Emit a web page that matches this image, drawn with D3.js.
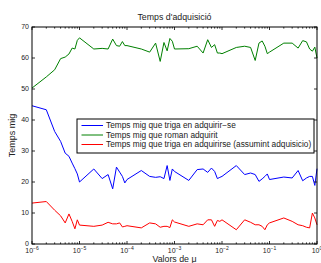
<!DOCTYPE html>
<meta charset="utf-8">
<style>
  body { margin: 0; background: #fff; }
  text { font-family: "Liberation Sans", Arial, sans-serif; fill: #222; }
  .line { fill: none; stroke-width: 1px; }
</style>
<body>
<div id="chart"></div>
<script src="https://d3js.org/d3.v7.min.js"></script>
<script>
  // x values: 1..9 x 10^k, k = -6..-1, then 10^0
  var mus = [];
  for (var k = -6; k < 0; k++) for (var m = 1; m <= 9; m++) mus.push(+(m * Math.pow(10, k)).toPrecision(2));
  mus.push(1);

  var adquirir = [44.6, 43.3, 36.3, 33.1, 29.3, 28.3, 26.1, 24.3, 22.6,
                  20.0, 24.2, 21.1, 22.4, 17.8, 24.8, 23.2, 21.8, 19.7,
                  20.8, 23.7, 21.8, 21.5, 21.7, 21.1, 25.3, 20.5, 24.2,
                  23.4, 20.5, 24.0, 24.2, 23.1, 24.5, 23.4, 21.1, 21.5,
                  21.8, 25.3, 22.4, 22.9, 22.4, 20.2, 21.0, 21.8, 22.6,
                  20.8, 21.6, 21.3, 23.7, 20.4, 21.3, 21.8, 21.8, 18.9,
                  24.3];
  var roman = [50.3, 53.9, 56.2, 59.8, 60.3, 61.3, 63.2, 62.9, 65.7,
               66.5, 62.9, 63.1, 62.9, 66.1, 64.0, 63.8, 65.3, 64.0,
               64.0, 62.9, 61.9, 64.8, 58.9, 65.0, 62.3, 66.3, 65.4,
               62.9, 63.0, 63.8, 61.6, 65.9, 63.4, 64.3, 61.6, 61.6,
               61.4, 63.4, 63.8, 63.4, 59.2, 64.8, 65.5, 63.8, 61.4,
               61.9, 64.8, 64.8, 63.2, 65.6, 65.2, 62.9, 62.2, 63.5,
               60.0];
  var assumint = [13.2, 13.7, 10.9, 9.1, 6.8, 9.7, 7.3, 4.9, 7.8,
                  6.1, 5.7, 6.1, 7.0, 6.5, 6.5, 6.8, 5.5, 5.7,
                  5.9, 5.2, 6.8, 6.5, 5.4, 5.7, 5.7, 5.3, 7.8,
                  7.1, 5.7, 6.5, 6.2, 7.8, 7.8, 5.7, 7.6, 7.3,
                  7.8, 4.6, 7.8, 7.0, 6.2, 6.2, 5.7, 4.6, 6.2,
                  6.8, 8.4, 7.3, 6.2, 5.9, 5.4, 5.2, 10.0, 8.4,
                  6.2];

  var seriesNames = ["Temps mig que triga en adquirir\u2212se", "Temps mig que roman adquirit",
                     "Temps mig que triga en adquirirse (assumint adquisicio)"];
  var seriesColors = ["#0000ff", "#008000", "#ff0000"];
  var yTicks = [0, 10, 20, 30, 40, 50, 60, 70];
  var xExps = [-6, -5, -4, -3, -2, -1, 0];

  var width = 321, height = 263,
      margin = {top: 27, right: 4, bottom: 19, left: 32};
  var w = width - margin.left - margin.right,
      h = height - margin.top - margin.bottom;

  var svg = d3.select("#chart").append("svg")
      .attr("width", width).attr("height", height);
  var g = svg.append("g").attr("transform", "translate(" + margin.left + "," + margin.top + ")");

  var x = d3.scaleLog().domain([1e-6, 1]).range([0, w]);
  var y = d3.scaleLinear().domain([0, 70]).range([h, 0]);

  var data = [adquirir, roman, assumint].map(function(vals, i) {
    return {name: seriesNames[i], color: seriesColors[i],
            values: vals.map(function(v, j) { return {mu: mus[j], t: v}; })};
  });

  var line = d3.line()
      .x(function(d) { return x(d.mu); })
      .y(function(d) { return y(d.t); });

  g.selectAll(".line").data(data).enter().append("path")
      .attr("class", "line")
      .attr("d", function(d) { return line(d.values); })
      .style("stroke", function(d) { return d.color; });

  // ticks (inward, matlab style) on all four sides
  var minor = [];
  for (var e = -6; e < 0; e++) for (var m2 = 2; m2 <= 9; m2++) minor.push(m2 * Math.pow(10, e));
  var ticks = g.append("g").attr("stroke", "#000").attr("stroke-width", 0.8);
  xExps.forEach(function(e) {
    var px = x(Math.pow(10, e));
    ticks.append("line").attr("x1", px).attr("x2", px).attr("y1", h).attr("y2", h - 3);
    ticks.append("line").attr("x1", px).attr("x2", px).attr("y1", 0).attr("y2", 3);
  });
  minor.forEach(function(v) {
    var px = x(v);
    ticks.append("line").attr("x1", px).attr("x2", px).attr("y1", h).attr("y2", h - 1.6);
    ticks.append("line").attr("x1", px).attr("x2", px).attr("y1", 0).attr("y2", 1.6);
  });
  yTicks.forEach(function(v) {
    ticks.append("line").attr("x1", 0).attr("x2", 3).attr("y1", y(v)).attr("y2", y(v));
    ticks.append("line").attr("x1", w).attr("x2", w - 3).attr("y1", y(v)).attr("y2", y(v));
  });

  g.append("rect").attr("width", w).attr("height", h)
      .attr("fill", "none").attr("stroke", "#000").attr("stroke-width", 1);

  g.selectAll(".ylab").data(yTicks).enter().append("text")
      .attr("x", -3).attr("y", function(d) { return y(d); })
      .attr("dy", "0.35em").attr("text-anchor", "end")
      .style("font-size", "7px").text(function(d) { return d; });

  var xl = g.selectAll(".xlab").data(xExps).enter().append("text")
      .attr("x", function(d) { return x(Math.pow(10, d)); })
      .attr("y", h + 9).attr("text-anchor", "middle")
      .style("font-size", "7px");
  xl.append("tspan").text("10");
  xl.append("tspan").attr("dy", -3).style("font-size", "5px")
      .text(function(d) { return d === 0 ? "0" : "\u2212" + (-d); });

  svg.append("text").attr("x", margin.left + w / 2).attr("y", 20)
      .attr("text-anchor", "middle").style("font-size", "8.8px").text("Temps d'adquisici\u00f3");
  svg.append("text").attr("x", margin.left + w / 2).attr("y", 262)
      .attr("text-anchor", "middle").style("font-size", "8.8px").text("Valors de \u03bc");
  svg.append("text").attr("transform", "translate(15," + (margin.top + h / 2) + ") rotate(-90)")
      .attr("text-anchor", "middle").style("font-size", "9px").text("Temps mig");

  // legend
  var lg = svg.append("g").attr("transform", "translate(77,119)");
  lg.append("rect").attr("width", 237).attr("height", 34)
      .attr("fill", "#fff").attr("stroke", "#000").attr("stroke-width", 1);
  data.forEach(function(d, i) {
    var ly = 6.5 + i * 9.5;
    lg.append("line").attr("x1", 4.5).attr("x2", 26).attr("y1", ly).attr("y2", ly)
        .attr("stroke", d.color).attr("stroke-width", 1);
    lg.append("text").attr("x", 29).attr("y", ly).attr("dy", "0.35em")
        .style("font-size", "8.3px").text(d.name);
  });
</script>
</body>
